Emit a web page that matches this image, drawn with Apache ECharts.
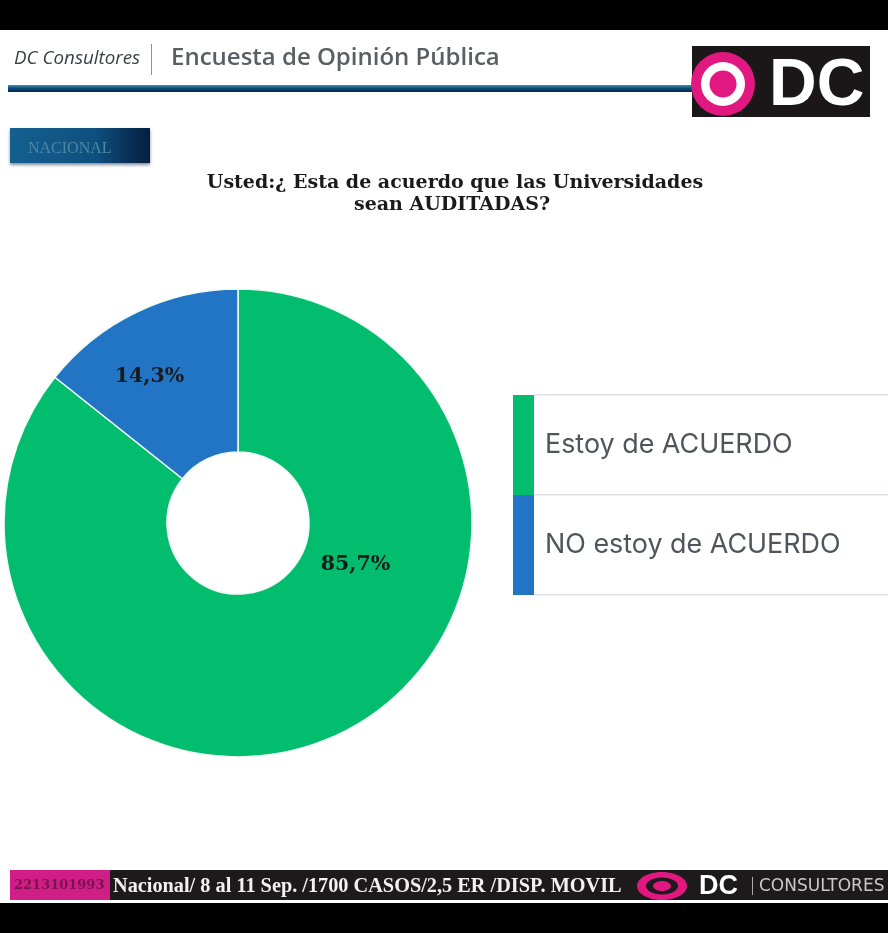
<!DOCTYPE html>
<html>
<head>
<meta charset="utf-8">
<style>
html, body { margin: 0; padding: 0; background: #fff; }
#chart { width: 888px; height: 933px; }
</style>
<script src="https://cdn.jsdelivr.net/npm/echarts@6/dist/echarts.min.js"></script>
</head>
<body>
<div id="chart"></div>
<script>
var categories = ['Estoy de ACUERDO', 'NO estoy de ACUERDO'];
var values = [85.7, 14.3];
var colors = ['#03bd6e', '#2175c4'];
var labelOffsets = [[50, -98], [-21, -6]];

var mychart = echarts.init(document.getElementById('chart'));

var serif = '"Liberation Serif", serif';
var dejaSerif = '"DejaVu Serif", serif';
var sans = '"Open Sans", sans-serif';

function rect(x, y, w, h, fill, z) {
    return { type: 'rect', z: z || 1, shape: { x: x, y: y, width: w, height: h }, style: { fill: fill } };
}
function text(x, y, str, font, fill, align) {
    return { type: 'text', z: 5, x: x, y: y, style: { text: str, font: font, fill: fill, align: align || 'left', verticalAlign: 'middle' } };
}
function ring(cx, cy, r, fill) {
    return { type: 'circle', z: 3, shape: { cx: cx, cy: cy, r: r }, style: { fill: fill } };
}

var option = {
    backgroundColor: '#fff',
    animation: false,
    legend: {
        left: 513,
        top: 395,
        orient: 'vertical',
        itemWidth: 21,
        itemHeight: 100,
        itemGap: 0,
        padding: 0,
        selectedMode: false,
        icon: 'rect',
        data: categories,
        itemStyle: { borderWidth: 0 },
        textStyle: {
            color: '#50555c',
            fontFamily: 'Inter, "Noto Sans", sans-serif',
            fontSize: 26.9,
            padding: [2, 0, 0, 6]
        }
    },
    series: [{
        type: 'pie',
        center: [238, 523],
        radius: [71, 234],
        startAngle: 90,
        clockwise: true,
        silent: true,
        itemStyle: { borderColor: '#f2faf7', borderWidth: 1.5 },
        labelLine: { show: false },
        data: categories.map(function (name, i) {
            return {
                name: name,
                value: values[i],
                itemStyle: { color: colors[i] },
                label: {
                    show: true,
                    position: 'inside',
                    formatter: String(values[i]).replace('.', ',') + '%',
                    offset: labelOffsets[i],
                    color: '#1a1a1a',
                    fontFamily: '"DejaVu Serif", serif',
                    fontWeight: 'bold',
                    fontSize: 20.5
                }
            };
        })
    }],
    graphic: [
        rect(0, 0, 888, 30, '#000'),
        rect(0, 903, 888, 30, '#000'),

        // header
        text(14, 59, 'DC Consultores', 'italic 18.8px ' + sans, '#3b3f44'),
        rect(151, 44, 1, 31, '#8a8f94'),
        text(171, 58, 'Encuesta de Opinión Pública', '600 24px ' + sans, '#5a5f64'),
        {
            type: 'rect', z: 1, shape: { x: 8, y: 85, width: 684, height: 7 },
            style: { fill: new echarts.graphic.LinearGradient(0, 0, 0, 1, [
                { offset: 0, color: '#3f93a8' }, { offset: 0.5, color: '#0b4a78' }, { offset: 1, color: '#04264a' }
            ]) }
        },

        // logo
        rect(692, 46, 178, 71, '#1b1718', 2),
        ring(723, 84, 32, '#e0187f'),
        ring(723, 84, 22, '#fff'),
        ring(723, 84, 13.5, '#e0187f'),
        text(769, 87, 'DC', 'bold 66px "Liberation Sans", sans-serif', '#fff'),

        // region tag
        {
            type: 'rect', z: 1, shape: { x: 10, y: 128, width: 140, height: 35 },
            style: {
                fill: new echarts.graphic.LinearGradient(0, 0, 1, 0, [
                    { offset: 0, color: '#14608f' }, { offset: 0.6, color: '#0e5080' }, { offset: 1, color: '#051f3f' }
                ]),
                shadowBlur: 3, shadowColor: 'rgba(0,30,60,0.5)', shadowOffsetY: 2
            }
        },
        text(28, 149, 'NACIONAL', '16px ' + serif, '#4d87a8'),

        // question
        text(455, 183, 'Usted:¿ Esta de acuerdo que las Universidades', 'bold 19px ' + dejaSerif, '#1a1a1a', 'center'),
        text(452, 205, 'sean AUDITADAS?', 'bold 19px ' + dejaSerif, '#1a1a1a', 'center'),

        // legend rules
        rect(534, 394, 354, 1.5, '#dcdfe3'),
        rect(534, 494, 354, 1.5, '#dcdfe3'),
        rect(534, 594, 354, 1.5, '#dcdfe3'),

        // footer
        rect(10, 870, 878, 30, '#1c1a1b'),
        rect(10, 870, 100, 30, '#cf1f86', 2),
        text(14, 886, '2213101993', 'bold 13px ' + dejaSerif, '#7d1250'),
        text(113, 887, 'Nacional/ 8 al 11 Sep. /1700 CASOS/2,5 ER /DISP. MOVIL', 'bold 20.3px ' + serif, '#f1f1f1'),
        { type: 'ellipse', z: 3, shape: { cx: 662, cy: 886, rx: 25, ry: 14 }, style: { fill: '#e0187f' } },
        { type: 'ellipse', z: 3, shape: { cx: 662, cy: 886, rx: 16, ry: 8.5 }, style: { fill: '#1c1a1b' } },
        { type: 'ellipse', z: 3, shape: { cx: 662, cy: 886, rx: 9, ry: 5 }, style: { fill: '#e0187f' } },
        text(699, 887, 'DC', 'bold 27px "Liberation Sans", sans-serif', '#fff'),
        rect(752, 877, 1, 18, '#aaa', 2),
        text(759, 887, 'CONSULTORES', '17px "DejaVu Sans", sans-serif', '#c9c9c9')
    ]
};
mychart.setOption(option);
</script>
</body>
</html>
